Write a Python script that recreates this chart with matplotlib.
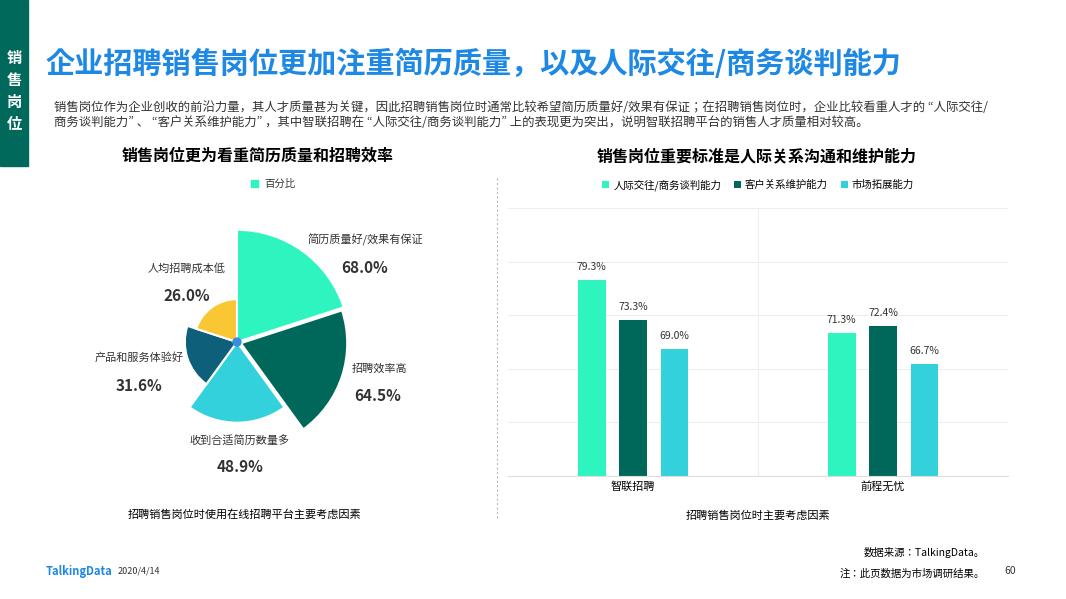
import numpy as np
import matplotlib
matplotlib.use("Agg")
import matplotlib.pyplot as plt
from matplotlib.patches import Wedge, Rectangle

plt.rcParams['font.family'] = ['Noto Sans CJK JP', 'Noto Sans CJK SC', 'DejaVu Sans']

pie_labels = ["简历质量好/效果有保证", "招聘效率高", "收到合适简历数量多", "产品和服务体验好", "人均招聘成本低"]
pie_values = [68.0, 64.5, 48.9, 31.6, 26.0]
pie_colors = ["#2EF5C0", "#00685A", "#33D1DC", "#0E5F7A", "#F9C734"]

bar_categories = ["智联招聘", "前程无忧"]
bar_series = ["人际交往/商务谈判能力", "客户关系维护能力", "市场拓展能力"]
bar_values = [[79.3, 71.3], [73.3, 72.4], [69.0, 66.7]]
bar_colors = ["#2EF5C0", "#00685A", "#33D1DC"]

W, H = 1066, 599
fig = plt.figure(figsize=(W/100, H/100), dpi=100)
bg = fig.add_axes([0, 0, 1, 1]); bg.set_xlim(0, W); bg.set_ylim(H, 0); bg.axis('off')

bg.add_patch(Rectangle((0, 0), 28, 166, color="#00695C"))
for i, ch in enumerate("销售岗位"):
    bg.text(14, 58 + i*22, ch, color="white", fontsize=11, fontweight='bold', ha='center', va='center')
bg.text(46, 64, "企业招聘销售岗位更加注重简历质量，以及人际交往/商务谈判能力", color="#1E88E5",
        fontsize=21, fontweight='bold', va='center')
bg.text(54, 115, "销售岗位作为企业创收的前沿力量，其人才质量甚为关键，因此招聘销售岗位时通常比较希望简历质量好/效果有保证；在招聘销售岗位时，企业比较看重人才的 “人际交往/\n商务谈判能力” 、 “客户关系维护能力” ，其中智联招聘在 “人际交往/商务谈判能力” 上的表现更为突出，说明智联招聘平台的销售人才质量相对较高。",
        fontsize=8.9, color="#333333", va='center', linespacing=1.15)
bg.text(258, 156, "销售岗位更为看重简历质量和招聘效率", fontsize=11.5, fontweight='bold', ha='center', va='center')
bg.text(757, 156, "销售岗位重要标准是人际关系沟通和维护能力", fontsize=11.5, fontweight='bold', ha='center', va='center')
bg.plot([497, 497], [178, 520], ls=(0, (2, 2)), color="#BBBBBB", lw=0.8)
bg.add_patch(Rectangle((251, 180), 7, 7, color="#2EF5C0"))
bg.text(264, 184, "百分比", fontsize=7.5, color="#333333", va='center')
bg.text(245, 514, "招聘销售岗位时使用在线招聘平台主要考虑因素", fontsize=8, ha='center', va='center')
bg.text(758, 516, "招聘销售岗位时主要考虑因素", fontsize=8, ha='center', va='center')
bg.text(985, 552, "数据来源：TalkingData。", fontsize=7.5, style='italic', ha='right', va='center')
bg.text(985, 574, "注：此页数据为市场调研结果。", fontsize=7.5, style='italic', ha='right', va='center')
bg.text(1016, 571, "60", fontsize=7.5, ha='right', va='center', color="#333333")
bg.text(46, 571, "TalkingData", fontsize=8, fontweight='bold', color="#1E88E5", va='center')
bg.text(118, 571, "2020/4/14", fontsize=6.5, color="#333333", va='center')

# rose pie (y axis inverted -> negate angles)
cx, cy = 237, 342
k = 1.65
for i, (v, c) in enumerate(zip(pie_values, pie_colors)):
    t2 = 90 - 72*i; t1 = t2 - 72
    r = v * k
    ox, oy = 0, 0
    if i == 1:
        mid = np.deg2rad((t1+t2)/2); ox, oy = 4*np.cos(mid), -4*np.sin(mid)
    bg.add_patch(Wedge((cx+ox, cy+oy), r, -t2, -t1, color=c, ec='white', lw=1.5))
bg.add_patch(plt.Circle((cx, cy), 4, color="#3A8DDE"))
label_pos = [(365, 240, 268, 'center'), (352, 369, 396, 'left'), (240, 440, 467, 'center'),
             (139, 358, 386, 'center'), (187, 268, 296, 'center')]
for (lx, y1, y2, ha), lab, v in zip(label_pos, pie_labels, pie_values):
    bg.text(lx, y1, lab, fontsize=8, ha=ha, va='center', color="#333333")
    x2 = lx + (26 if ha == 'left' else 0)
    bg.text(x2, y2, f"{v:.1f}%", fontsize=11, fontweight='bold', ha='center', va='center', color="#333333")

# bar chart
ax = fig.add_axes([508/W, 1-476/H, (1008-508)/W, (476-208)/H])
x = np.arange(len(bar_categories))
w = 0.11
for j, (vals, c) in enumerate(zip(bar_values, bar_colors)):
    pos = x + (j-1)*w*1.5
    ax.bar(pos, vals, w, color=c, label=bar_series[j])
    for p, v in zip(pos, vals):
        ax.text(p, v + 1.2, f"{v:.1f}%", ha='center', va='bottom', fontsize=7.5, color="#333333")
ax.set_xlim(-0.5, 1.5)
ax.set_ylim(50, 90)
ax.set_yticks(np.arange(50, 91, 8))
ax.set_yticklabels([])
ax.tick_params(length=0)
ax.set_xticks(x); ax.set_xticklabels(bar_categories, fontsize=8)
ax.grid(axis='y', color="#EEEEEE", lw=0.8)
ax.axvline(0.5, color="#EEEEEE", lw=0.8)
for s in ax.spines.values(): s.set_visible(False)
ax.spines['bottom'].set_visible(True); ax.spines['bottom'].set_color("#DDDDDD")
ax.set_axisbelow(True)
ax.legend(loc='lower center', bbox_to_anchor=(0.5, 1.03), ncol=3, frameon=False, fontsize=7.5,
          handlelength=0.7, handleheight=0.7, columnspacing=1.2, handletextpad=0.4)

fig.savefig("out.png", dpi=100)
